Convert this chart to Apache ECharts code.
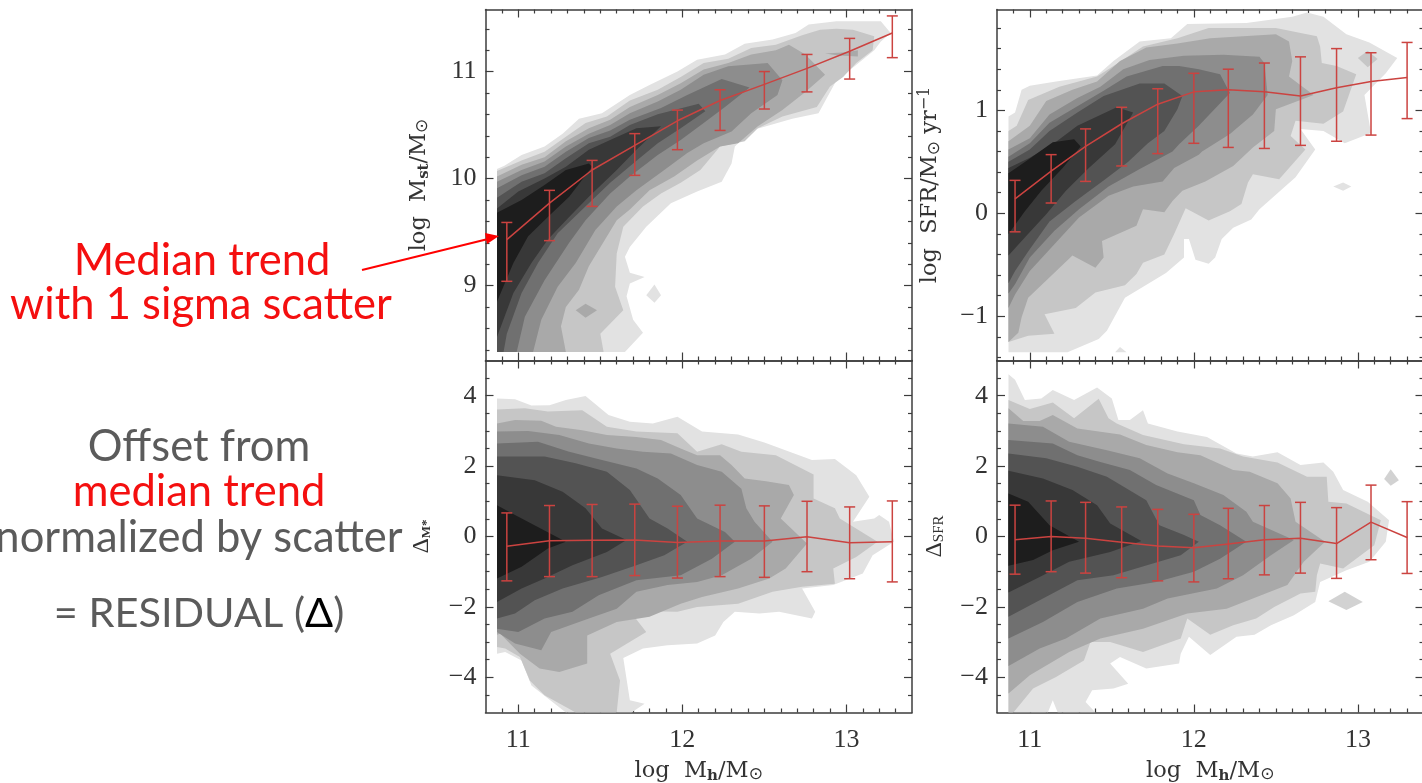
<!DOCTYPE html>
<html><head><meta charset="utf-8">
<style>html,body{margin:0;padding:0;background:#fff;overflow:hidden}#c{width:1422px;height:783px}</style>
<script src="https://cdn.jsdelivr.net/npm/echarts@6/dist/echarts.min.js"></script>
</head><body><div id="c"></div>
<script>
// ---------- shared shades (outermost -> innermost density contour) ----------
const shades = ['#e2e2e2','#c6c6c6','#a9a9a9','#8d8d8d','#707070','#535353','#383838','#1d1d1d'];
const islandShade = '#d2d2d2';
const medianColor = '#cb4340';

// ---------- median trends, 1 sigma scatter ----------
const binsLeft  = [10.93,11.19,11.45,11.71,11.97,12.23,12.5,12.76,13.02,13.28];
const binsRight = [10.91,11.13,11.34,11.56,11.78,12.0,12.21,12.43,12.65,12.87,13.08,13.3];
const mstMedian = [9.43,9.77,10.08,10.31,10.54,10.73,10.88,11.03,11.19,11.36];
const mstHigh   = [9.59,9.89,10.17,10.42,10.64,10.83,11.0,11.16,11.31,11.52];
const mstLow    = [9.04,9.42,9.74,10.03,10.27,10.45,10.65,10.81,10.93,11.13];
const sfrMedian = [0.14,0.41,0.65,0.87,1.06,1.18,1.2,1.18,1.14,1.22,1.28,1.32];
const sfrHigh   = [0.32,0.57,0.82,1.03,1.21,1.36,1.4,1.46,1.52,1.6,1.56,1.66];
const sfrLow    = [-0.18,0.1,0.31,0.46,0.58,0.68,0.64,0.63,0.66,0.7,0.76,0.92];
const dMstMedian = [-0.28,-0.12,-0.11,-0.1,-0.17,-0.13,-0.13,-0.01,-0.18,-0.15];
const dMstHigh   = [0.67,0.88,0.91,0.92,0.86,0.89,0.87,1.0,0.84,1.01];
const dMstLow    = [-1.26,-1.14,-1.14,-1.11,-1.18,-1.14,-1.16,-1.0,-1.2,-1.29];
const dSfrMedian = [-0.09,0,-0.05,-0.16,-0.27,-0.32,-0.21,-0.09,-0.05,-0.2,0.41,-0.03];
const dSfrHigh   = [0.89,1.01,0.97,0.84,0.77,0.63,0.8,0.88,0.97,0.82,1.46,0.99];
const dSfrLow    = [-1.07,-1.0,-1.04,-1.17,-1.26,-1.29,-1.2,-1.09,-1.04,-1.19,-0.66,-1.05];

// ---------- contour outlines [log Mh, value] : top-left panel ----------
const mst1 = [[10.87,8.38],[10.87,10.09],[10.915,10.12],[11.02,10.22],[11.16,10.3],[11.27,10.42],[11.37,10.56],[11.51,10.61],[11.68,10.78],[11.8,10.875],[11.97,11.0],[12.09,11.11],[12.26,11.16],[12.38,11.26],[12.55,11.3],[12.69,11.36],[12.77,11.44],[12.94,11.47],[13.21,11.47],[13.27,11.36],[13.21,11.28],[13.17,11.2],[13.05,11.05],[12.94,10.92],[12.83,10.61],[12.67,10.56],[12.42,10.45],[12.32,10.3],[12.3,10.14],[12.24,9.97],[12.09,9.88],[11.93,9.77],[11.78,9.55],[11.68,9.36],[11.65,9.27],[11.68,9.12],[11.77,9.08],[11.68,9.02],[11.66,8.9],[11.7,8.68],[11.76,8.56],[11.65,8.38]];
const mst1b = [[11.78,8.91],[11.83,9.01],[11.87,8.91],[11.83,8.84]];
const mst2 = [[10.87,8.38],[10.87,10.07],[11.02,10.17],[11.16,10.25],[11.29,10.39],[11.41,10.52],[11.54,10.58],[11.68,10.73],[11.85,10.83],[11.99,10.95],[12.13,11.08],[12.28,11.12],[12.42,11.22],[12.57,11.25],[12.73,11.34],[12.84,11.39],[12.94,11.4],[13.04,11.39],[13.17,11.33],[13.16,11.2],[13.06,11.08],[12.98,10.95],[12.9,10.86],[12.82,10.67],[12.61,10.58],[12.46,10.47],[12.38,10.35],[12.23,10.3],[12.11,10.08],[11.99,9.96],[11.87,9.86],[11.76,9.74],[11.64,9.55],[11.6,9.3],[11.59,8.99],[11.64,8.77],[11.5,8.55],[11.52,8.38]];
const mst3 = [[10.87,8.38],[10.87,10.02],[11.02,10.13],[11.16,10.2],[11.29,10.35],[11.43,10.47],[11.56,10.55],[11.68,10.67],[11.85,10.78],[11.99,10.89],[12.13,11.02],[12.28,11.08],[12.42,11.16],[12.57,11.2],[12.65,11.25],[12.75,11.16],[12.87,10.97],[12.75,10.81],[12.61,10.64],[12.46,10.49],[12.34,10.33],[12.23,10.3],[12.09,10.17],[11.95,10.02],[11.8,9.89],[11.68,9.71],[11.6,9.61],[11.43,9.18],[11.37,8.96],[11.29,8.8],[11.26,8.62],[11.29,8.38]];
const mst3b = [[11.35,8.77],[11.41,8.83],[11.48,8.77],[11.41,8.7]];
const mst3c = [[12.87,11.17],[13.0,11.18],[13.07,11.2],[13.07,11.14],[12.95,11.15]];
const mst4 = [[10.87,8.38],[10.87,9.97],[11.02,10.08],[11.16,10.16],[11.29,10.3],[11.43,10.42],[11.56,10.5],[11.68,10.61],[11.85,10.72],[11.99,10.83],[12.13,10.97],[12.28,11.05],[12.52,11.08],[12.61,10.92],[12.58,10.78],[12.42,10.61],[12.3,10.44],[12.13,10.33],[12.03,10.24],[11.89,10.08],[11.72,9.89],[11.6,9.74],[11.47,9.52],[11.35,9.21],[11.24,8.99],[11.14,8.68],[11.09,8.38]];
const mst5 = [[10.87,8.38],[10.87,9.91],[11.02,10.03],[11.16,10.11],[11.29,10.25],[11.43,10.38],[11.56,10.45],[11.68,10.55],[11.87,10.66],[12.03,10.78],[12.24,10.93],[12.41,10.85],[12.26,10.67],[12.13,10.52],[11.99,10.36],[11.85,10.22],[11.68,10.02],[11.56,9.86],[11.41,9.61],[11.31,9.4],[11.16,9.05],[11.04,8.71],[10.99,8.38]];
const mst6 = [[10.87,8.38],[10.87,9.82],[11.02,9.97],[11.16,10.05],[11.29,10.19],[11.43,10.33],[11.56,10.39],[11.68,10.5],[11.85,10.6],[12.1,10.7],[12.14,10.63],[11.99,10.47],[11.85,10.33],[11.7,10.14],[11.56,9.96],[11.39,9.71],[11.24,9.49],[11.12,9.21],[11.02,8.93],[10.93,8.55],[10.91,8.38]];
const mst7 = [[10.87,8.52],[10.87,9.72],[11.0,9.88],[11.16,10.0],[11.29,10.11],[11.43,10.27],[11.56,10.36],[11.72,10.47],[11.87,10.49],[11.72,10.27],[11.6,10.08],[11.43,9.83],[11.31,9.64],[11.18,9.43],[11.08,9.21],[10.97,8.93]];
const mst8 = [[10.87,8.85],[10.87,9.68],[11.02,9.8],[11.16,9.94],[11.29,10.08],[11.43,10.14],[11.45,10.11],[11.31,9.83],[11.18,9.64],[11.06,9.46],[10.97,9.21]];

// ---------- top-right panel ----------
const sfr1 = [[10.87,-1.35],[10.87,0.94],[10.91,0.98],[10.95,1.2],[11.0,1.24],[11.16,1.28],[11.41,1.34],[11.51,1.48],[11.67,1.67],[11.86,1.7],[11.96,1.84],[12.32,1.85],[12.6,1.91],[12.69,1.95],[12.79,1.91],[12.93,1.74],[13.07,1.66],[13.24,1.51],[13.17,1.36],[13.04,1.15],[13.08,0.78],[12.92,0.68],[12.79,0.8],[12.65,0.82],[12.74,0.62],[12.62,0.35],[12.4,0.04],[12.35,-0.06],[12.24,-0.14],[12.17,-0.25],[12.13,-0.43],[12.09,-0.49],[12.01,-0.45],[11.97,-0.25],[11.94,-0.25],[11.94,-0.43],[11.83,-0.58],[11.58,-0.82],[11.47,-1.14],[11.42,-1.22],[11.23,-1.35]];
const sfr1b = [[12.85,0.26],[12.91,0.3],[12.96,0.26],[12.91,0.22]];
const sfr1c = [[11.52,-1.35],[11.55,-1.3],[11.59,-1.35]];
const sfr2 = [[10.87,-1.25],[10.87,0.8],[10.92,0.85],[10.99,1.1],[11.18,1.23],[11.41,1.33],[11.51,1.43],[11.69,1.62],[11.9,1.7],[12.09,1.8],[12.5,1.8],[12.75,1.72],[12.77,1.62],[12.78,1.46],[12.87,1.43],[12.99,1.35],[12.91,0.99],[12.79,0.87],[12.62,0.9],[12.59,0.75],[12.68,0.62],[12.52,0.33],[12.36,0.38],[12.33,0.3],[12.29,0.09],[12.22,0.02],[12.09,-0.07],[11.95,0.05],[11.88,-0.2],[11.82,-0.4],[11.69,-0.48],[11.65,-0.59],[11.58,-0.7],[11.4,-0.77],[11.28,-0.92],[11.09,-0.98],[11.15,-1.17],[10.99,-1.19]];
const sfr2b = [[13.0,1.51],[13.06,1.58],[13.12,1.5],[13.06,1.42]];
const sfr3 = [[10.87,-1.25],[10.87,0.7],[11.0,0.85],[11.1,1.09],[11.26,1.2],[11.41,1.28],[11.55,1.48],[11.71,1.61],[11.9,1.65],[12.1,1.7],[12.5,1.74],[12.58,1.67],[12.6,1.48],[12.58,1.33],[12.73,1.15],[12.65,1.1],[12.5,1.01],[12.49,0.8],[12.36,0.64],[12.24,0.46],[12.07,0.31],[11.93,0.22],[11.87,0.12],[11.82,0.01],[11.69,0.04],[11.65,-0.12],[11.44,-0.27],[11.45,-0.43],[11.4,-0.53],[11.26,-0.41],[10.99,-0.82],[10.95,-1.01],[10.93,-1.16]];
const sfr4 = [[10.87,-0.92],[10.87,0.62],[11.0,0.73],[11.12,0.96],[11.29,1.12],[11.43,1.23],[11.57,1.4],[11.73,1.49],[11.94,1.53],[12.18,1.54],[12.4,1.52],[12.43,1.46],[12.45,1.15],[12.36,0.96],[12.22,0.77],[12.05,0.6],[12.03,0.57],[11.88,0.44],[11.81,0.31],[11.63,0.26],[11.48,0.17],[11.3,-0.04],[11.15,-0.3],[11.0,-0.56],[10.91,-0.79]];
const sfr5 = [[10.87,-0.78],[10.87,0.55],[11.0,0.68],[11.12,0.88],[11.29,1.04],[11.45,1.19],[11.59,1.33],[11.81,1.43],[11.91,1.43],[12.03,1.4],[12.16,1.35],[12.22,1.17],[12.03,0.85],[11.91,0.67],[11.87,0.6],[11.67,0.43],[11.48,0.26],[11.3,0.04],[11.15,-0.17],[11.0,-0.43],[10.91,-0.69]];
const sfr6 = [[10.87,-0.68],[10.87,0.5],[11.0,0.62],[11.12,0.8],[11.29,0.98],[11.45,1.14],[11.67,1.26],[11.82,1.26],[11.93,1.14],[11.9,1.01],[11.82,0.8],[11.72,0.68],[11.6,0.5],[11.46,0.33],[11.28,0.12],[11.12,-0.08],[10.99,-0.37],[10.91,-0.56]];
const sfr7 = [[10.87,-0.41],[10.87,0.44],[11.0,0.54],[11.14,0.67],[11.29,0.85],[11.41,0.94],[11.53,1.03],[11.63,0.98],[11.52,0.67],[11.36,0.44],[11.22,0.22],[11.1,-0.01],[10.95,-0.27]];
const sfr8 = [[10.87,-0.2],[10.87,0.39],[10.99,0.52],[11.14,0.69],[11.27,0.72],[11.31,0.65],[11.2,0.44],[11.07,0.22],[10.97,0.02]];

// ---------- bottom-left panel ----------
const dMst1 = [[10.87,-3.33],[10.87,3.92],[10.98,3.9],[11.08,3.72],[11.19,3.73],[11.29,3.88],[11.41,3.99],[11.55,3.45],[11.68,3.26],[11.82,3.21],[11.97,3.4],[12.12,2.98],[12.34,2.9],[12.5,2.67],[12.79,2.17],[12.93,2.2],[13.06,1.74],[13.14,1.13],[13.04,0.42],[13.17,0.51],[13.2,0.61],[13.26,0.42],[13.29,-0.15],[13.16,-0.53],[13.1,-1.05],[12.92,-1.38],[12.73,-1.48],[12.81,-2.14],[12.79,-2.33],[12.59,-2.14],[12.47,-2.19],[12.32,-2.14],[12.25,-2.43],[12.2,-2.81],[12.09,-3.04],[11.91,-3.09],[11.76,-3.18],[11.64,-3.45],[11.68,-4.65],[11.77,-4.75],[11.69,-5],[11.29,-5],[11.08,-4.23],[11.02,-3.52],[10.92,-3.28]];
const dMst2 = [[10.87,-3.14],[10.87,3.61],[11.04,3.64],[11.18,3.55],[11.39,3.59],[11.54,3.12],[11.72,2.98],[11.97,2.93],[12.09,2.41],[12.24,2.62],[12.36,2.41],[12.57,2.31],[12.8,1.76],[12.8,1.08],[12.93,0.8],[12.96,0.51],[13.19,-0.15],[13.06,-0.58],[12.92,-0.91],[12.93,-1.34],[12.73,-1.43],[12.55,-1.57],[12.34,-1.91],[12.09,-2.0],[11.97,-2.14],[11.68,-2.12],[11.78,-2.71],[11.56,-3.33],[11.62,-4.09],[11.6,-5],[11.35,-5],[11.16,-4.51],[11.07,-4.09],[11.01,-3.42],[10.92,-3.18]];
const dMst3 = [[10.87,-2.79],[10.87,3.21],[10.98,3.31],[11.14,3.29],[11.23,3.12],[11.39,3.02],[11.54,2.88],[11.72,2.83],[11.87,2.74],[11.99,2.5],[12.09,2.31],[12.23,2.31],[12.3,2.03],[12.38,1.65],[12.51,1.57],[12.65,1.46],[12.68,1.18],[12.6,0.51],[12.76,-0.2],[12.63,-0.91],[12.53,-1.19],[12.34,-1.48],[12.12,-1.72],[11.99,-1.91],[11.8,-2.28],[11.6,-2.43],[11.42,-2.81],[11.42,-3.61],[11.25,-3.85],[11.13,-3.75],[11.01,-3.33],[10.89,-2.76]];
const dMst4 = [[10.87,-2.71],[10.87,2.98],[11.06,3.0],[11.25,2.88],[11.43,2.64],[11.6,2.5],[11.76,2.41],[11.93,2.36],[12.09,2.03],[12.24,1.84],[12.36,1.36],[12.39,0.8],[12.44,0.42],[12.55,-0.15],[12.42,-0.63],[12.24,-1.1],[12.09,-1.29],[11.91,-1.38],[11.72,-1.57],[11.6,-2.05],[11.43,-2.33],[11.2,-2.71],[11.14,-3.23],[10.98,-3.04]];
const dMst5 = [[10.87,-2.62],[10.87,2.64],[11.12,2.69],[11.31,2.41],[11.51,2.17],[11.72,1.93],[11.85,1.65],[11.99,1.18],[12.09,0.51],[12.26,0.13],[12.32,-0.15],[12.18,-0.63],[11.99,-1.1],[11.72,-1.24],[11.49,-1.67],[11.33,-2.14],[11.16,-2.33],[11.0,-2.71]];
const dMst6 = [[10.87,-2.33],[10.87,2.27],[11.16,2.27],[11.35,2.08],[11.54,1.84],[11.68,1.32],[11.8,0.51],[11.91,0.23],[12.03,-0.15],[11.89,-0.53],[11.72,-0.82],[11.51,-1.15],[11.27,-1.48],[11.1,-1.81],[10.98,-2.19]];
const dMst7 = [[10.87,-1.86],[10.87,1.74],[11.1,1.6],[11.27,1.27],[11.41,0.8],[11.51,0.23],[11.66,-0.1],[11.54,-0.44],[11.33,-0.82],[11.16,-1.19],[11.02,-1.48]];
const dMst8 = [[10.87,-1.19],[10.87,0.89],[10.98,0.61],[11.29,-0.15],[11.18,-0.34],[11.02,-0.86]];

// ---------- bottom-right panel ----------
const dSfr1 = [[10.87,-5],[10.87,4.61],[10.91,4.45],[10.97,3.88],[11.07,3.92],[11.14,4.16],[11.27,3.88],[11.41,4.23],[11.5,3.92],[11.54,3.31],[11.61,3.31],[11.69,3.59],[11.72,3.21],[11.9,2.98],[12.08,2.83],[12.26,2.36],[12.36,2.27],[12.51,2.39],[12.65,2.03],[12.79,2.1],[12.85,1.84],[12.91,1.32],[13.06,0.99],[13.19,0.46],[13.17,-0.15],[13.07,-0.72],[12.93,-0.96],[12.77,-1.29],[12.74,-1.86],[12.61,-2.24],[12.47,-2.52],[12.37,-2.79],[12.26,-2.85],[12.1,-3.37],[11.97,-2.85],[11.92,-3.33],[11.91,-3.61],[11.71,-3.75],[11.55,-3.42],[11.49,-3.61],[11.6,-4.18],[11.51,-4.32],[11.38,-4.37],[11.34,-4.7],[11.4,-5],[11.17,-5],[11.14,-4.65],[11.11,-5]];
const dSfr1b = [[13.16,1.63],[13.2,1.91],[13.25,1.6],[13.2,1.44]];
const dSfr1c = [[12.82,-1.84],[12.92,-1.57],[13.03,-1.86],[12.93,-2.09]];
const dSfr2 = [[10.87,-5],[10.87,3.88],[11.0,3.62],[11.14,3.81],[11.27,3.36],[11.42,3.91],[11.48,3.36],[11.53,3.21],[11.69,2.88],[11.94,2.62],[12.16,2.5],[12.3,2.27],[12.51,2.1],[12.69,1.7],[12.81,1.7],[12.82,0.99],[12.93,0.94],[13.14,0.46],[13.1,-0.25],[12.91,-0.91],[12.77,-0.77],[12.75,-1.1],[12.74,-1.57],[12.65,-1.62],[12.49,-2.0],[12.38,-2.33],[12.24,-2.52],[12.1,-2.79],[11.96,-2.33],[11.92,-2.9],[11.69,-3.28],[11.49,-3.0],[11.37,-3.0],[11.33,-3.52],[11.16,-3.99],[11.02,-4.32],[10.9,-5]];
const dSfr3 = [[10.87,-4.46],[10.87,3.64],[10.96,3.28],[11.06,3.28],[11.14,3.45],[11.29,3.07],[11.55,2.9],[11.71,2.6],[11.9,2.39],[12.04,2.31],[12.24,1.89],[12.34,1.84],[12.51,1.51],[12.59,1.08],[12.62,0.42],[12.8,-0.15],[12.67,-0.72],[12.57,-1.38],[12.36,-1.76],[12.2,-2.05],[11.96,-2.19],[11.69,-2.62],[11.43,-2.9],[11.24,-3.28],[11.0,-3.94]];
const dSfr4 = [[10.87,-3.68],[10.87,3.21],[11.08,3.12],[11.24,2.69],[11.47,2.45],[11.67,2.22],[11.84,1.79],[12.0,1.51],[12.18,1.18],[12.32,0.7],[12.36,0.42],[12.61,-0.1],[12.47,-0.53],[12.3,-1.1],[12.14,-1.48],[11.84,-1.76],[11.69,-2.05],[11.43,-2.33],[11.22,-2.9],[11.06,-3.18]];
const dSfr5 = [[10.87,-2.9],[10.87,2.74],[11.14,2.64],[11.29,2.31],[11.43,2.12],[11.61,1.89],[11.77,1.46],[12.0,1.03],[12.04,0.61],[12.16,0.32],[12.32,-0.15],[12.16,-0.63],[12.0,-1.0],[11.77,-1.29],[11.53,-1.48],[11.29,-1.86],[11.08,-2.43]];
const dSfr6 = [[10.87,-2.28],[10.87,2.36],[11.1,2.22],[11.29,1.98],[11.47,1.7],[11.71,1.03],[11.79,0.32],[11.94,0.04],[12.03,-0.15],[11.92,-0.53],[11.75,-0.77],[11.51,-1.1],[11.29,-1.24],[11.08,-1.76]];
const dSfr7 = [[10.87,-1.59],[10.87,1.87],[11.08,1.65],[11.26,1.32],[11.41,0.89],[11.49,0.37],[11.68,-0.13],[11.49,-0.44],[11.24,-0.72],[11.06,-1.15]];
const dSfr8 = [[10.87,-0.83],[10.87,1.22],[10.99,0.99],[11.12,0.32],[11.3,-0.15],[11.14,-0.39],[11.02,-0.67]];

// ---------- axis ticks ----------
const xMajor = [11,12,13];
const xMinor = [10.9,11.1,11.2,11.3,11.4,11.5,11.6,11.7,11.8,11.9,12.1,12.2,12.3,12.4,12.5,12.6,12.7,12.8,12.9,13.1,13.2,13.3];
const mstMajor = [9,10,11];
const mstMinor = [8.4,8.6,8.8,9.2,9.4,9.6,9.8,10.2,10.4,10.6,10.8,11.2,11.4];
const sfrMajor = [-1,0,1];
const sfrMinor = [-1.4,-1.2,-0.8,-0.6,-0.4,-0.2,0.2,0.4,0.6,0.8,1.2,1.4,1.6,1.8];
const deltaMajor = [-4,-2,0,2,4];
const deltaMinor = [-4.5,-3.5,-3,-2.5,-1.5,-1,-0.5,0.5,1,1.5,2.5,3,3.5,4.5];

const serif = '"Liberation Serif","DejaVu Serif",serif';
const wideSerif = '"DejaVu Serif","Liberation Serif",serif';
const round = 'Lato,"Noto Sans",sans-serif';
const axisDark = '#3c3c3c';
const ink = '#333';
const richBase = {
  t:{fontFamily:wideSerif,fontSize:22.5,color:ink},
  s:{fontFamily:wideSerif,fontSize:15,color:ink,verticalAlign:'bottom',padding:[10,0,0,0],fontWeight:'bold'},
  o:{fontFamily:'"DejaVu Sans"',fontSize:17,color:ink,verticalAlign:'bottom',padding:[8,0,0,0]},
  u:{fontFamily:wideSerif,fontSize:16,color:ink,verticalAlign:'top',padding:[0,0,10,0]},
  d:{fontFamily:serif,fontSize:24,color:ink},
  m:{fontFamily:serif,fontSize:13,color:ink,fontWeight:'bold',verticalAlign:'bottom',padding:[8,0,0,0]},
  f:{fontFamily:serif,fontSize:15,color:ink,verticalAlign:'bottom',padding:[8,0,0,0]}
};
const xName = '{t|log  M}{s|h}{t|/M}{o|⊙}';

const panels = [
  {left:485.5, top:9.5,  w:426.5, h:351, yMin:8.3,  yMax:11.58, yMajor:mstMajor, yMinor:mstMinor, bins:binsLeft,
   med:mstMedian, hi:mstHigh, lo:mstLow, name:'{t|log  M}{s|st}{t|/M}{o|⊙}', gap:54, xLabels:false,
   rings:[[0,mst1],[0,mst1b],[1,mst2],[2,mst3],[2,mst3b],[2,mst3c],[3,mst4],[4,mst5],[5,mst6],[6,mst7],[7,mst8]]},
  {left:997, top:9.5,  w:426.5, h:351, yMin:-1.43,yMax:1.98,  yMajor:sfrMajor, yMinor:sfrMinor, bins:binsRight,
   med:sfrMedian, hi:sfrHigh, lo:sfrLow, name:'{t|log  SFR/M}{o|⊙}{t| yr}{u|−1}', gap:54, xLabels:false,
   rings:[[0,sfr1],[0,sfr1b],[0,sfr1c],[1,sfr2],[1,sfr2b],[2,sfr3],[3,sfr4],[4,sfr5],[5,sfr6],[6,sfr7],[7,sfr8]]},
  {left:485.5, top:360.5,w:426.5, h:352, yMin:-5,   yMax:5,     yMajor:deltaMajor, yMinor:deltaMinor, bins:binsLeft,
   med:dMstMedian, hi:dMstHigh, lo:dMstLow, name:'{d|Δ}{m|M*}', gap:52, xLabels:true,
   rings:[[0,dMst1],[1,dMst2],[2,dMst3],[3,dMst4],[4,dMst5],[5,dMst6],[6,dMst7],[7,dMst8]]},
  {left:997, top:360.5,w:426.5, h:352, yMin:-5,   yMax:5,     yMajor:deltaMajor, yMinor:deltaMinor, bins:binsRight,
   med:dSfrMedian, hi:dSfrHigh, lo:dSfrLow, name:'{d|Δ}{f|SFR}', gap:50, xLabels:true,
   rings:[[0,dSfr1],[1,dSfr2],['i',dSfr1b],['i',dSfr1c],[2,dSfr3],[3,dSfr4],[4,dSfr5],[5,dSfr6],[6,dSfr7],[7,dSfr8]]}
];

const grid=[], xAxis=[], yAxis=[], series=[];
const tickStyle = {color:axisDark,width:1.2};
panels.forEach((p,i)=>{
  const rect = {left:p.left,top:p.top,width:p.w,height:p.h,containLabel:false,outerBoundsMode:'none'};
  grid.push(rect); grid.push(rect);
  const gM = 2*i, gm = 2*i+1;
  const baseX = {type:'value',min:10.8,max:13.4,splitLine:{show:false}};
  const baseY = {type:'value',min:p.yMin,max:p.yMax,splitLine:{show:false}};
  const fmt = v => String(v).replace('-','−');
  xAxis.push({...baseX,gridIndex:gM,position:'bottom',
    axisLine:{show:true,lineStyle:{color:axisDark,width:1.5},onZero:false},
    axisTick:{show:true,inside:true,length:8,customValues:xMajor,lineStyle:tickStyle},
    axisLabel:{show:p.xLabels,customValues:xMajor,margin:15,formatter:fmt,fontFamily:serif,fontSize:26,color:ink},
    name:p.xLabels?xName:'',nameLocation:'middle',nameGap:46,nameTextStyle:{rich:richBase}});
  xAxis.push({...baseX,gridIndex:gM,position:'top',
    axisLine:{show:true,lineStyle:{color:axisDark,width:1.5},onZero:false},
    axisTick:{show:true,inside:true,length:8,customValues:xMajor,lineStyle:tickStyle},axisLabel:{show:false}});
  xAxis.push({...baseX,gridIndex:gm,position:'bottom',axisLine:{show:false,onZero:false},
    axisTick:{show:true,inside:true,length:4,customValues:xMinor,lineStyle:tickStyle},axisLabel:{show:false}});
  xAxis.push({...baseX,gridIndex:gm,position:'top',axisLine:{show:false,onZero:false},
    axisTick:{show:true,inside:true,length:4,customValues:xMinor,lineStyle:tickStyle},axisLabel:{show:false}});
  yAxis.push({...baseY,gridIndex:gM,position:'left',
    axisLine:{show:true,lineStyle:{color:axisDark,width:1.5},onZero:false},
    axisTick:{show:true,inside:true,length:8,customValues:p.yMajor,lineStyle:tickStyle},
    axisLabel:{show:true,customValues:p.yMajor,margin:9,padding:[4,0,0,0],formatter:fmt,fontFamily:serif,fontSize:26,color:ink},
    name:p.name,nameLocation:'middle',nameGap:p.gap,nameRotate:90,nameTextStyle:{rich:richBase}});
  yAxis.push({...baseY,gridIndex:gM,position:'right',
    axisLine:{show:true,lineStyle:{color:axisDark,width:1.5},onZero:false},
    axisTick:{show:true,inside:true,length:8,customValues:p.yMajor,lineStyle:tickStyle},axisLabel:{show:false}});
  yAxis.push({...baseY,gridIndex:gm,position:'left',axisLine:{show:false,onZero:false},
    axisTick:{show:true,inside:true,length:4,customValues:p.yMinor,lineStyle:tickStyle},axisLabel:{show:false}});
  yAxis.push({...baseY,gridIndex:gm,position:'right',axisLine:{show:false,onZero:false},
    axisTick:{show:true,inside:true,length:4,customValues:p.yMinor,lineStyle:tickStyle},axisLabel:{show:false}});

  const xi = 4*i, yi = 4*i;
  p.rings.forEach(([lvl,ring])=>{
    const fill = lvl==='i' ? islandShade : shades[lvl];
    series.push({type:'custom',coordinateSystem:'cartesian2d',xAxisIndex:xi,yAxisIndex:yi,clip:true,silent:true,
      animation:false,z:2,data:ring,encode:{x:0,y:1},
      renderItem:(params,api)=>{
        if(params.dataIndex!==0) return null;
        return {type:'polygon',shape:{points:ring.map(pt=>api.coord(pt))},style:{fill}};
      }});
  });
  series.push({type:'custom',coordinateSystem:'cartesian2d',xAxisIndex:xi,yAxisIndex:yi,silent:true,clip:false,animation:false,z:5,
    data:p.bins.map((x,k)=>[x,p.lo[k],p.hi[k]]),encode:{x:0,y:[1,2]},
    renderItem:(params,api)=>{
      const a = api.coord([api.value(0),api.value(1)]), b = api.coord([api.value(0),api.value(2)]);
      const cap = 5.5, st = {stroke:medianColor,lineWidth:1.5,fill:null};
      return {type:'group',children:[
        {type:'line',shape:{x1:a[0],y1:a[1],x2:b[0],y2:b[1]},style:st},
        {type:'line',shape:{x1:a[0]-cap,y1:a[1],x2:a[0]+cap,y2:a[1]},style:st},
        {type:'line',shape:{x1:b[0]-cap,y1:b[1],x2:b[0]+cap,y2:b[1]},style:st}]};
    }});
  series.push({type:'line',xAxisIndex:xi,yAxisIndex:yi,z:6,silent:true,animation:false,showSymbol:false,smooth:false,
    data:p.bins.map((x,k)=>[x,p.med[k]]),lineStyle:{color:medianColor,width:1.5}});
});

const red='#f40f0f', grey='#5b5b5b', fs=43.5;
const txt=(x,y,text,fill)=>({type:'text',x,y,z:20,silent:true,style:{text,fill,fontFamily:round,fontSize:fs,align:'center',verticalAlign:'middle'}});
const graphic=[
  txt(202,261,'Median trend',red),
  txt(201,305,'with 1 sigma scatter',red),
  txt(199,447,'Offset from',grey),
  txt(199,492,'median trend',red),
  txt(199,538,'normalized by scatter',grey),
  {type:'text',x:199,y:614,z:20,silent:true,style:{text:'{g|= RESIDUAL (}{k|Δ}{g|)}',align:'center',verticalAlign:'middle',
    rich:{g:{fontFamily:round,fontSize:fs-2,fill:grey},k:{fontFamily:round,fontSize:fs-2,fill:'#000'}}}},
  {type:'line',z:30,silent:true,shape:{x1:362,y1:270,x2:488,y2:239},style:{stroke:'#f00',lineWidth:2}},
  {type:'polygon',z:30,silent:true,shape:{points:[[499,236],[485,233],[487,244]]},style:{fill:'#f00'}}
];

const chart = echarts.init(document.getElementById('c'),null,{renderer:'canvas'});
chart.setOption({animation:false,backgroundColor:'#fff',grid,xAxis,yAxis,series,graphic});
</script></body></html>
